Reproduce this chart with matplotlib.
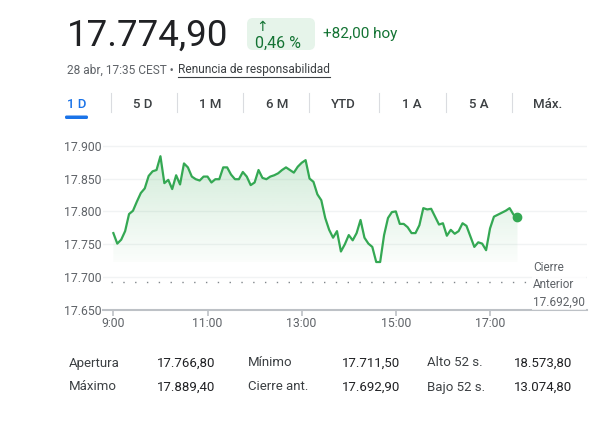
import numpy as np
import matplotlib.pyplot as plt
from matplotlib.patches import FancyBboxPatch
from matplotlib.lines import Line2D

plt.rcParams['font.family'] = ['Roboto', 'DejaVu Sans']

# 5-minute prices, 9:00 -> 17:35
prices = [
    17767, 17751, 17757, 17770, 17796, 17801, 17815, 17828, 17835, 17854,
    17861, 17863, 17884, 17843, 17848, 17834, 17855, 17841, 17873, 17867,
    17853, 17849, 17847, 17853, 17853, 17844, 17849, 17849, 17867, 17867,
    17856, 17849, 17849, 17860, 17853, 17840, 17844, 17863, 17851, 17849,
    17853, 17855, 17858, 17863, 17867, 17863, 17859, 17868, 17874, 17878,
    17850, 17845, 17826, 17817, 17790, 17772, 17760, 17770, 17739, 17750,
    17764, 17756, 17767, 17787, 17760, 17751, 17746, 17723, 17723, 17764,
    17790, 17799, 17800, 17781, 17781, 17776, 17767, 17767, 17779, 17805,
    17803, 17804, 17792, 17780, 17782, 17763, 17772, 17766, 17770, 17782,
    17778, 17762, 17746, 17753, 17751, 17741, 17774, 17792, 17795, 17798,
    17801, 17805, 17795, 17792,
]
prices = np.array(prices) / 1000.0
hours = 9 + np.arange(len(prices)) * 5 / 60

prev_close = 17.6929
y_ticks = [17.650, 17.700, 17.750, 17.800, 17.850, 17.900]
x_ticks = [9, 11, 13, 15, 17]
x_labels = ["9:00", "11:00", "13:00", "15:00", "17:00"]

tabs = ["1 D", "5 D", "1 M", "6 M", "YTD", "1 A", "5 A", "Máx."]
stat_labels = [["Apertura", "Mínimo", "Alto 52 s."], ["Máximo", "Cierre ant.", "Bajo 52 s."]]
stat_values = [["17.766,80", "17.711,50", "18.573,80"], ["17.889,40", "17.692,90", "13.074,80"]]

W, H = 597, 429
GREEN = "#34a853"
fig = plt.figure(figsize=(W / 100, H / 100), dpi=100)
renderer = fig.canvas.get_renderer()


def fx(x):
    return x / W


def fy(y):
    return 1 - y / H


# ---- header ----
fig.text(fx(67), fy(46), "17.774,90", fontsize=26.5, color="#202124", va="baseline")
fig.add_artist(FancyBboxPatch((247, H - 50), 68, 32, boxstyle="round,pad=0,rounding_size=6",
                              transform=None, fc="#e6f4ea", ec="none"))
fig.text(fx(262), fy(27), "↑", fontsize=10, color="#137333", ha="center", va="center")
fig.text(fx(255), fy(43), "0,46 %", fontsize=11.5, color="#137333", va="center")
fig.text(fx(323), fy(34), "+82,00 hoy", fontsize=11, color="#137333", va="center")

# date line, disclaimer placed right after it and underlined
t1 = fig.text(fx(67), fy(73.5), "28 abr, 17:35 CEST • ", fontsize=8.6, color="#5f6368",
              va="baseline")
x2 = t1.get_window_extent(renderer).x1 + 1
t2 = fig.text(x2 / W, fy(73.5), "Renuncia de responsabilidad", fontsize=8.6,
              color="#3c4043", va="baseline")
x3 = t2.get_window_extent(renderer).x1
fig.add_artist(Line2D([x2 / W, x3 / W], [fy(76.5), fy(76.5)], transform=fig.transFigure,
                      color="#3c4043", lw=0.8))

# ---- range tabs ----
tab_x = [77, 143, 210, 277, 343, 412, 479, 548]
sep_x = [111, 177, 243, 309, 379, 446, 512]
for i, (t, x) in enumerate(zip(tabs, tab_x)):
    fig.text(fx(x), fy(105), t, fontsize=9.5, ha="center", va="center", fontweight="medium",
             color="#1a73e8" if i == 0 else "#3c4043")
for x in sep_x:
    fig.add_artist(Line2D([fx(x), fx(x)], [fy(93), fy(112)], transform=fig.transFigure,
                          color="#dadce0", lw=0.8))
fig.add_artist(FancyBboxPatch((65, H - 119), 23, 3.5, boxstyle="round,pad=0,rounding_size=1.5",
                              transform=None, fc="#1a73e8", ec="none"))

# ---- chart ----
ax = fig.add_axes([fx(103), fy(310), (587 - 103) / W, (310 - 142.4) / H])
ax.set_xlim(8.78, 19.06)
ax.set_ylim(17.650, 17.905)

ax.plot(hours, prices, color=GREEN, lw=1.6, zorder=4, solid_joinstyle="round")
ax.plot(hours[-1], prices[-1], "o", color=GREEN, ms=6, zorder=5)

# gradient fill under the line
base = prices.min()
poly = ax.fill_between(hours, prices, base, facecolor="none", edgecolor="none")
grad = np.zeros((256, 1, 4))
grad[:, 0, 0] = 52 / 255
grad[:, 0, 1] = 168 / 255
grad[:, 0, 2] = 83 / 255
grad[:, 0, 3] = np.linspace(0.22, 0.02, 256)
im = ax.imshow(grad, extent=[hours[0], hours[-1], base, prices.max()], origin="upper",
               aspect="auto", zorder=2)
im.set_clip_path(poly.get_paths()[0], transform=ax.transData)

# previous close, dotted
ax.plot([8.95, 17.80], [prev_close, prev_close], color="#80868b", lw=1.0,
        linestyle=(0, (1, 7.5)), zorder=3)

ax.set_yticks(y_ticks)
ax.set_yticklabels([f"{v:.3f}" for v in y_ticks])
ax.set_xticks(x_ticks)
ax.set_xticklabels(x_labels)
ax.grid(axis="y", color="#f1f3f4", lw=1)
ax.set_axisbelow(True)
for s in ["top", "right", "left"]:
    ax.spines[s].set_visible(False)
ax.spines["bottom"].set_color("#bdc1c6")
ax.spines["bottom"].set_linewidth(1.5)
ax.tick_params(axis="y", length=0, pad=1, labelsize=8.8, labelcolor="#5f6368")
ax.tick_params(axis="x", length=4, width=1.2, color="#bdc1c6", pad=1,
               labelsize=8.8, labelcolor="#5f6368")

fig.text(fx(533), fy(285), "Cierre\nAnterior\n17.692,90", fontsize=8.5, color="#5f6368",
         va="center", ha="left", linespacing=1.45,
         bbox=dict(fc="white", ec="none", alpha=0.75, pad=1), zorder=10)

# ---- stats ----
col_x = [(69, 157), (248, 342), (427, 514)]
row_y = [363, 387]
for r in range(2):
    for c in range(3):
        fig.text(fx(col_x[c][0]), fy(row_y[r]), stat_labels[r][c], fontsize=9.5,
                 color="#3c4043", va="center")
        fig.text(fx(col_x[c][1]), fy(row_y[r]), stat_values[r][c], fontsize=9.5,
                 color="#202124", va="center")

fig.savefig("out.png", dpi=100)
